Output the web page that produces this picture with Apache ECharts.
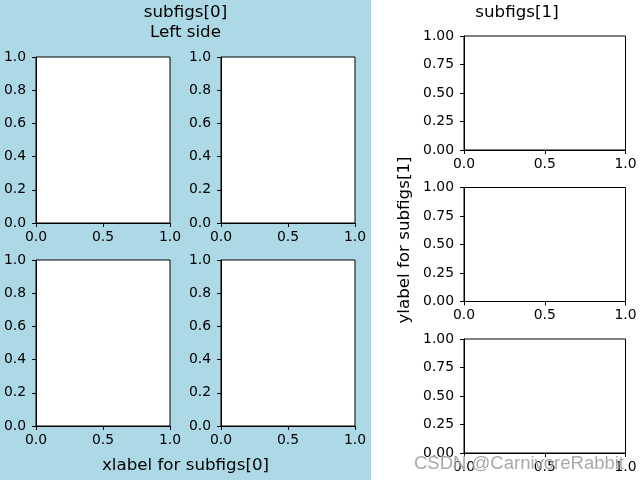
<!DOCTYPE html>
<html>
<head>
<meta charset="utf-8">
<script src="https://cdn.jsdelivr.net/npm/echarts@6/dist/echarts.min.js"></script>
<style>html,body{margin:0;padding:0;background:#fff}#c{width:640px;height:480px}</style>
</head>
<body>
<div id="c"></div>
<script>
var xTicks = [0.0, 0.5, 1.0];
var leftYTicks = [0.0, 0.2, 0.4, 0.6, 0.8, 1.0];
var rightYTicks = [0.0, 0.25, 0.5, 0.75, 1.0];
var leftTitle = 'subfigs[0]\nLeft side';
var rightTitle = 'subfigs[1]';
var leftXLabel = 'xlabel for subfigs[0]';
var rightYLabel = 'ylabel for subfigs[1]';

var FONT = 'DejaVu Sans';
var grids = [
  {left: 36, top: 57, width: 134, height: 166},
  {left: 221, top: 57, width: 134, height: 166},
  {left: 36, top: 260, width: 134, height: 166},
  {left: 221, top: 260, width: 134, height: 166},
  {left: 464, top: 36, width: 161.5, height: 114},
  {left: 464, top: 187.5, width: 161.5, height: 114},
  {left: 464, top: 339, width: 161.5, height: 114}
];
function axisCommon(ticks, dec) {
  return {
    type: 'value', min: ticks[0], max: ticks[ticks.length - 1],
    interval: ticks[1] - ticks[0],
    splitLine: {show: false},
    axisLine: {show: true, onZero: false, lineStyle: {color: '#000', width: 1}},
    axisTick: {show: true, inside: false, length: 4, lineStyle: {color: '#000', width: 1}},
    axisLabel: {color: '#000', fontFamily: FONT, fontSize: 13.9,
      formatter: function (v) { return Number(v).toFixed(dec); }}
  };
}
var xAxes = [], yAxes = [], series = [];
grids.forEach(function (g, i) {
  var xa = axisCommon(xTicks, 1);
  xa.gridIndex = i; xa.axisLabel.margin = 7;
  xa.axisLabel.showMinLabel = true; xa.axisLabel.showMaxLabel = true;
  xAxes.push(xa);
  var ya = axisCommon(i < 4 ? leftYTicks : rightYTicks, i < 4 ? 1 : 2);
  ya.gridIndex = i; ya.axisLabel.margin = 10;
  yAxes.push(ya);
  series.push({type: 'line', xAxisIndex: i, yAxisIndex: i, data: [], silent: true});
  g.show = true; g.backgroundColor = '#fff'; g.borderColor = '#000'; g.borderWidth = 1;
  g.containLabel = false;
});

var chart = echarts.init(document.getElementById('c'), null, {renderer: 'canvas'});
chart.setOption({
  backgroundColor: '#fff',
  animation: false,
  graphic: [
    {type: 'rect', z: -10, silent: true, shape: {x: 0, y: 0, width: 371, height: 480}, style: {fill: '#add8e6'}},
    {type: 'text', x: 185.5, y: 23, style: {text: leftTitle, fontFamily: FONT, fontSize: 16.7, fill: '#000', textAlign: 'center', textVerticalAlign: 'middle', lineHeight: 20}},
    {type: 'text', x: 517, y: 13, style: {text: rightTitle, fontFamily: FONT, fontSize: 16.7, fill: '#000', textAlign: 'center', textVerticalAlign: 'middle'}},
    {type: 'text', x: 185.5, y: 466, style: {text: leftXLabel, fontFamily: FONT, fontSize: 16.7, fill: '#000', textAlign: 'center', textVerticalAlign: 'middle'}},
    {type: 'text', x: 405, y: 240, rotation: Math.PI / 2, style: {text: rightYLabel, fontFamily: FONT, fontSize: 16.7, fill: '#000', textAlign: 'center', textVerticalAlign: 'middle'}},
    {type: 'text', x: 519, y: 464, z: 100, style: {text: 'CSDN @CarnivoreRabbit', fontFamily: 'Liberation Sans', fontSize: 18.5, fill: 'rgba(140,140,140,0.75)', stroke: 'rgba(255,255,255,0.6)', lineWidth: 1, textAlign: 'center', textVerticalAlign: 'middle'}}
  ],
  grid: grids,
  xAxis: xAxes,
  yAxis: yAxes,
  series: series
});
</script>
</body>
</html>
